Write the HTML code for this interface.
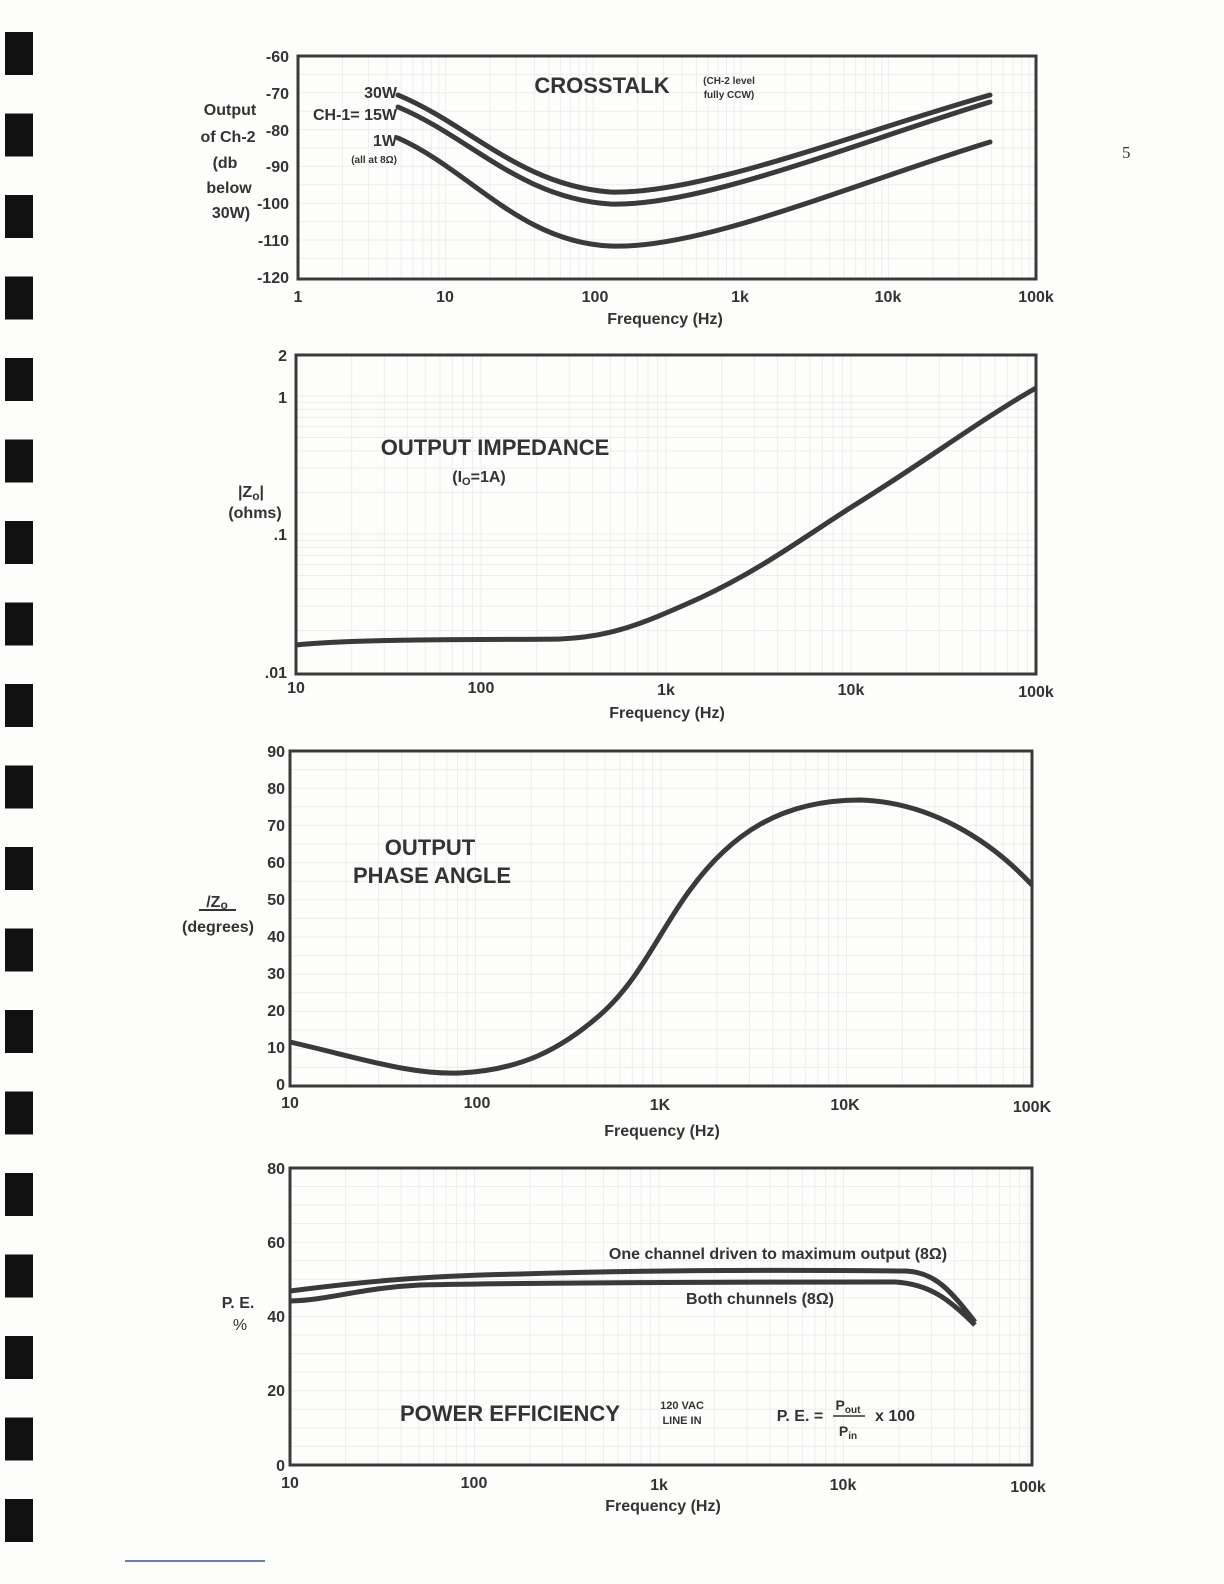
<!DOCTYPE html>
<html><head><meta charset="utf-8"><style>
html,body{margin:0;padding:0;background:#fdfdfb}
svg{display:block}
text{font-family:"Liberation Sans",sans-serif;font-weight:bold;fill:#333}
</style></head><body>
<svg id="s" width="1224" height="1584" viewBox="0 0 1224 1584" xmlns="http://www.w3.org/2000/svg">
<rect width="1224" height="1584" fill="#fdfdfb"/>
<g id="holes" fill="#111"></g>
<g id="grid" stroke="#ededed" stroke-width="1"></g>
<text x="1122" y="158" style="font-family:'Liberation Serif',serif;font-weight:normal;font-size:17px" fill="#444">5</text>
<line x1="125" y1="1561" x2="265" y2="1561" stroke="#6a7fb0" stroke-width="2"/>

<!-- Chart 1 -->
<g fill="none" stroke="#3a3a3a" stroke-width="3"><rect x="298" y="56" width="738" height="223"/></g>
<g fill="none" stroke="#3a3a3a" stroke-width="5" stroke-linecap="round">
<path d="M398,95 C470,125 520,185 610,192 C700,195 850,135 990,95"/>
<path d="M398,107 C470,137 520,198 610,204 C700,207 850,145 990,102"/>
<path d="M398,138 C470,170 520,242 610,246 C700,250 850,185 990,142"/>
</g>
<g font-size="16" text-anchor="end">
<text x="289" y="62">-60</text><text x="289" y="99">-70</text><text x="289" y="136">-80</text><text x="289" y="172">-90</text><text x="289" y="209">-100</text><text x="289" y="246">-110</text><text x="289" y="283">-120</text>
</g>
<g font-size="16" text-anchor="middle">
<text x="230" y="115">Output</text><text x="228" y="142">of Ch-2</text><text x="225" y="168">(db</text><text x="229" y="193">below</text><text x="231" y="218">30W)</text>
<text x="298" y="302">1</text><text x="445" y="302">10</text><text x="595" y="302">100</text><text x="740" y="302">1k</text><text x="888" y="302">10k</text><text x="1036" y="302">100k</text>
<text x="665" y="324">Frequency  (Hz)</text>
</g>
<g font-size="16" text-anchor="end">
<text x="397" y="98">30W</text><text x="397" y="120">CH-1= 15W</text><text x="397" y="146">1W</text>
<text x="397" y="163" font-size="10">(all at 8Ω)</text>
</g>
<text x="602" y="93" font-size="22" text-anchor="middle">CROSSTALK</text>
<text x="729" y="84" font-size="10" text-anchor="middle">(CH-2  level</text>
<text x="729" y="98" font-size="10" text-anchor="middle">fully CCW)</text>

<!-- Chart 2 -->
<rect x="296" y="355" width="740" height="319" fill="none" stroke="#3a3a3a" stroke-width="3"/>
<path d="M296,645 C360,638 520,640 560,639 C610,637 640,625 700,598 C760,570 800,540 850,508 C920,465 980,420 1036,388" fill="none" stroke="#3a3a3a" stroke-width="5"/>
<g font-size="16" text-anchor="end"><text x="287" y="361">2</text><text x="287" y="403">1</text><text x="287" y="540">.1</text><text x="287" y="678">.01</text></g>
<g font-size="16" text-anchor="middle">
<text x="296" y="693">10</text><text x="481" y="693">100</text><text x="666" y="695">1k</text><text x="851" y="695">10k</text><text x="1036" y="697">100k</text>
<text x="667" y="718">Frequency (Hz)</text>
<text x="251" y="497">|Z<tspan font-size="12" dy="3">o</tspan><tspan dy="-3">|</tspan></text>
<text x="255" y="518">(ohms)</text>
<text x="495" y="455" font-size="22">OUTPUT IMPEDANCE</text>
<text x="479" y="482">(I<tspan font-size="11" dy="3">O</tspan><tspan dy="-3">=1A)</tspan></text>
</g>

<!-- Chart 3 -->
<rect x="290" y="751" width="742" height="335" fill="none" stroke="#3a3a3a" stroke-width="3"/>
<path d="M290,1042 C360,1058 410,1075 460,1073 C520,1070 560,1050 600,1015 C640,980 660,930 690,890 C730,835 780,800 860,800 C930,802 990,840 1032,885" fill="none" stroke="#3a3a3a" stroke-width="5"/>
<g font-size="16" text-anchor="end">
<text x="285" y="757">90</text><text x="285" y="794">80</text><text x="285" y="831">70</text><text x="285" y="868">60</text><text x="285" y="905">50</text><text x="285" y="942">40</text><text x="285" y="979">30</text><text x="285" y="1016">20</text><text x="285" y="1053">10</text><text x="285" y="1090">0</text>
</g>
<g font-size="16" text-anchor="middle">
<text x="290" y="1108">10</text><text x="477" y="1108">100</text><text x="660" y="1110">1K</text><text x="845" y="1110">10K</text><text x="1032" y="1112">100K</text>
<text x="662" y="1136">Frequency (Hz)</text>
<text x="217" y="907">/Z<tspan font-size="12" dy="2">o</tspan></text>
<text x="218" y="932">(degrees)</text>
<text x="430" y="855" font-size="22">OUTPUT</text>
<text x="432" y="883" font-size="22">PHASE  ANGLE</text>
</g>
<line x1="199" y1="910" x2="236" y2="910" stroke="#333" stroke-width="2"/>

<!-- Chart 4 -->
<rect x="290" y="1168" width="742" height="297" fill="none" stroke="#3a3a3a" stroke-width="3"/>
<g fill="none" stroke="#3a3a3a" stroke-width="5">
<path d="M290,1291 C360,1282 420,1276 520,1274 C650,1270 800,1270 905,1271 C935,1272 950,1290 975,1322"/>
<path d="M290,1301 C330,1300 360,1288 420,1285 C520,1283 650,1282 895,1282 C930,1284 950,1300 975,1325"/>
</g>
<g font-size="16" text-anchor="end">
<text x="285" y="1174">80</text><text x="285" y="1248">60</text><text x="285" y="1322">40</text><text x="285" y="1396">20</text><text x="285" y="1471">0</text>
</g>
<g font-size="16" text-anchor="middle">
<text x="290" y="1488">10</text><text x="474" y="1488">100</text><text x="659" y="1490">1k</text><text x="843" y="1490">10k</text><text x="1028" y="1492">100k</text>
<text x="663" y="1511">Frequency (Hz)</text>
<text x="238" y="1308">P. E.</text>
<text x="240" y="1330" style="font-weight:normal">%</text>
<text x="778" y="1259">One channel driven to maximum output  (8Ω)</text>
<text x="760" y="1304">Both chunnels  (8Ω)</text>
<text x="510" y="1421" font-size="22">POWER  EFFICIENCY</text>
<text x="682" y="1409" font-size="11">120 VAC</text>
<text x="682" y="1424" font-size="11">LINE IN</text>
<text x="800" y="1421">P. E.  =</text>
<text x="848" y="1410" font-size="14">P<tspan font-size="10" dy="3">out</tspan></text>
<text x="848" y="1436" font-size="14">P<tspan font-size="10" dy="3">in</tspan></text>
<text x="895" y="1421">x 100</text>
</g>
<line x1="833" y1="1416" x2="865" y2="1416" stroke="#333" stroke-width="1.5"/>
</svg>
<script>
var NS="http://www.w3.org/2000/svg";
var h=document.getElementById("holes");
for(var i=0;i<19;i++){var r=document.createElementNS(NS,"rect");r.setAttribute("x",5);r.setAttribute("y",32+i*81.5);r.setAttribute("width",28);r.setAttribute("height",43);h.appendChild(r);}
var g=document.getElementById("grid");
function L(x1,y1,x2,y2){var l=document.createElementNS(NS,"line");l.setAttribute("x1",x1);l.setAttribute("y1",y1);l.setAttribute("x2",x2);l.setAttribute("y2",y2);g.appendChild(l);}
function logx(x0,dec,n,y0,y1){for(var d=0;d<n;d++)for(var k=2;k<=10;k++){var x=x0+dec*(d+Math.log10(k));L(x,y0,x,y1);}}
logx(298,147.6,5,56,279);for(var v=1;v<12;v++){L(298,56+v*18.4,1036,56+v*18.4);}
logx(296,185,4,355,674);for(var d=0;d<3;d++)for(var k=2;k<=10;k++){var y=672-138*(d+Math.log10(k));if(y>355)L(296,y,1036,y);}
logx(290,185.5,4,751,1086);for(var v=1;v<18;v++){L(290,751+v*18.6,1032,751+v*18.6);}
logx(290,184.5,4,1168,1465);for(var v=1;v<16;v++){L(290,1168+v*18.56,1032,1168+v*18.56);}
</script>
</body></html>
